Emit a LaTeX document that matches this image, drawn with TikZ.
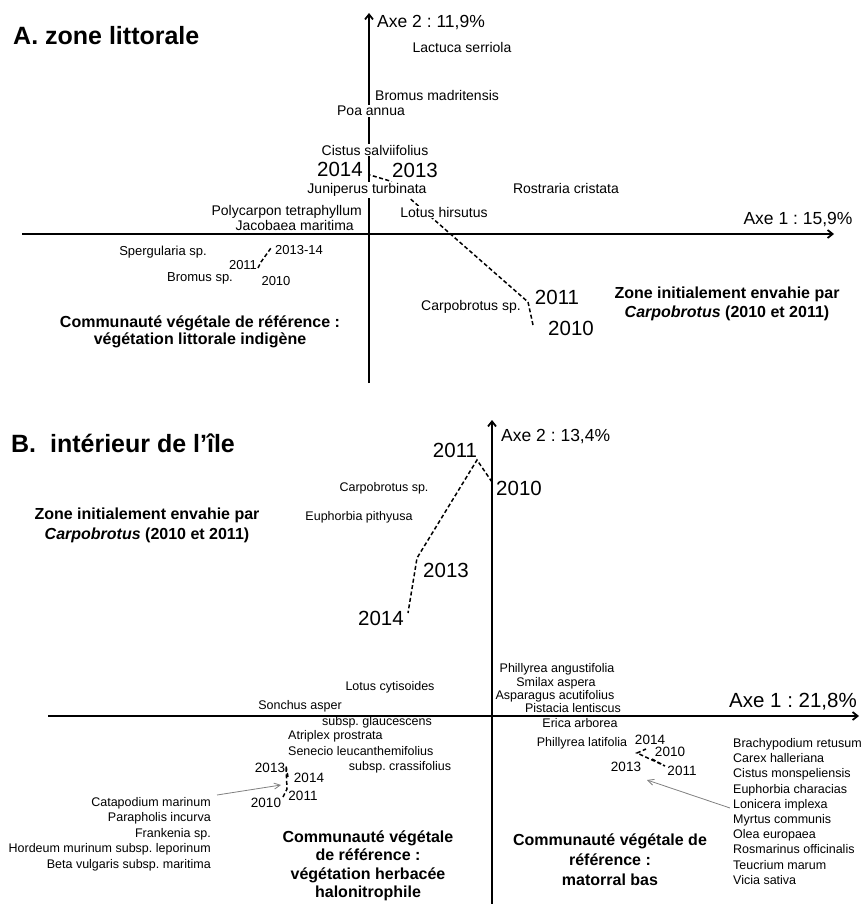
\documentclass[tikz,border=0pt]{standalone}
\usepackage{fontspec}
\setmainfont{Liberation Sans}
\usetikzlibrary{arrows.meta}
\frenchspacing

\begin{document}
\begin{tikzpicture}[x=1pt,y=-1pt,inner sep=1pt,
	axe/.style={line width=1.8pt,-{Straight Barb[length=5pt,width=8pt]}},
	traj/.style={line width=1.5pt,dash pattern=on 4pt off 2.5pt},
	fleche/.style={gray,line width=0.8pt,-{Straight Barb[length=6pt,width=6pt]}},
	cover/.style={fill=white},
	titre/.style={font=\bfseries\fontsize{25}{30}\selectfont,anchor=base west},
	axlab/.style={font=\fontsize{17.5}{20}\selectfont},
	esp/.style={font=\fontsize{14}{16}\selectfont},
	esppt/.style={font=\fontsize{13}{15}\selectfont},
	espB/.style={font=\fontsize{12.5}{15}\selectfont},
	annee/.style={font=\fontsize{20.5}{24}\selectfont},
	anpt/.style={font=\fontsize{13.5}{16}\selectfont},
	gras/.style={font=\bfseries\fontsize{16}{17}\selectfont,align=center}]

	\useasboundingbox (0,0) rectangle (861,904);

	% A. zone littorale
	\coordinate (a1g) at (22,234);
	\coordinate (a1d) at (834,234);
	\coordinate (a2b) at (369,383);
	\coordinate (a2h) at (369,13);
	\draw[axe] (a1g) -- (a1d);
	\draw[axe] (a2b) -- (a2h);

	\coordinate (tA10) at (533,325);
	\coordinate (tA11) at (528,302);
	\coordinate (tA13) at (390,181);
	\coordinate (tA14) at (370,175);
	\draw[traj] (tA10) -- (tA11) -- (tA13) -- (tA14);

	\coordinate (sA10) at (258,268);
	\coordinate (sA11) at (261,262);
	\coordinate (sA1314) at (271,248);
	\draw[traj] (sA10) -- (sA11) -- (sA1314);

	\node[titre] (titreA) at (12,45) {A. zone littorale};
	\node[axlab,anchor=west] (axe2A) at (376,23) {Axe 2 : 11,9\%};
	\node[axlab] (axe1A) at (798,220) {Axe 1 : 15,9\%};

	\node[esp] (lactuca) at (462,47) {Lactuca serriola};
	\node[esp,anchor=west] (bromusM) at (374,95) {Bromus madritensis};
	\node[esp,cover] (poa) at (371,111) {Poa annua};
	\node[esp,cover] (cistus) at (375,150) {Cistus salviifolius};
	\node[esp,cover] (juniperus) at (367,190) {Juniperus turbinata};
	\node[esp] (rostraria) at (566,188) {Rostraria cristata};
	\node[esp,cover] (lotusH) at (444,212) {Lotus hirsutus};
	\node[esp,anchor=east] (polycarpon) at (363,212) {Polycarpon tetraphyllum};
	\node[esp,anchor=east] (jacobaea) at (355,225) {Jacobaea maritima};
	\node[esp] (carpoA) at (471,307) {Carpobrotus sp.};

	\node[annee] (yA14) at (340,169) {2014};
	\node[annee] (yA13) at (415,170) {2013};
	\node[annee] (yA11) at (557,297) {2011};
	\node[annee] (yA10) at (571,328) {2010};

	\node[esppt] (spergularia) at (163,252) {Spergularia sp.};
	\node[esppt] (bromusSp) at (200,278) {Bromus sp.};
	\node[esppt] (pA1314) at (299,250) {2013-14};
	\node[esppt] (pA11) at (243,265) {2011};
	\node[esppt] (pA10) at (276,281) {2010};

	\node[gras] (refA) at (200,331.5) {Communauté végétale de référence :\\végétation littorale indigène};
	\node[gras,font=\bfseries\fontsize{16}{19}\selectfont] (zoneA) at (727,303.5) {Zone initialement envahie par\\\textit{Carpobrotus} (2010 et 2011)};

	% B. interieur de l'ile
	\coordinate (b1g) at (48,716);
	\coordinate (b1d) at (859,716);
	\coordinate (b2b) at (492,906);
	\coordinate (b2h) at (492,420);
	\draw[axe] (b1g) -- (b1d);
	\draw[axe] (b2b) -- (b2h);

	\coordinate (tB10) at (492,482);
	\coordinate (tB11) at (477,460);
	\coordinate (tB13) at (417,558);
	\coordinate (tB14) at (408,613);
	\draw[traj] (tB10) -- (tB11) -- (tB13) -- (tB14);

	\coordinate (sB10) at (283,797);
	\coordinate (sB11) at (287,789);
	\coordinate (sB13) at (286,766);
	\coordinate (sB14) at (288,777);
	\draw[traj] (sB10) -- (sB11) -- (sB13) -- (sB14);

	\coordinate (sC10) at (652,759);
	\coordinate (sC11) at (665,766);
	\coordinate (sC13) at (637,753);
	\coordinate (sC14) at (646,749);
	\draw[traj] (sC10) -- (sC11) -- (sC13) -- (sC14);

	\node[titre] (titreB) at (10,452) {B.\ \ intérieur de l’île};
	\node[axlab,anchor=west] (axe2B) at (500,437) {Axe 2 : 13,4\%};
	\node[axlab,font=\fontsize{20.5}{24}\selectfont] (axe1B) at (793,702) {Axe 1 : 21,8\%};

	\node[annee] (yB11) at (455,450) {2011};
	\node[annee] (yB10) at (519,488) {2010};
	\node[annee] (yB13) at (446,570) {2013};
	\node[annee] (yB14) at (381,618) {2014};

	\node[espB] (carpoB) at (384,488) {Carpobrotus sp.};
	\node[espB] (euphorbiaP) at (359,517) {Euphorbia pithyusa};
	\node[gras,font=\bfseries\fontsize{16}{20}\selectfont] (zoneB) at (147,525) {Zone initialement envahie par\\\textit{Carpobrotus} (2010 et 2011)};

	\node[espB] (lotusC) at (390,687) {Lotus cytisoides};
	\node[espB] (sonchus) at (300,706) {Sonchus asper};
	\node[espB] (glauc) at (377,722) {subsp. glaucescens};
	\node[espB,anchor=west] (atriplex) at (287,736) {Atriplex prostrata};
	\node[espB,anchor=west] (senecio) at (287,751) {Senecio leucanthemifolius};
	\node[espB] (crass) at (400,767) {subsp. crassifolius};

	\node[anpt] (pB13) at (270,768) {2013};
	\node[anpt] (pB14) at (309,778) {2014};
	\node[anpt] (pB11) at (303,796) {2011};
	\node[anpt] (pB10) at (266,803) {2010};

	\node[espB,anchor=east,align=right,font=\fontsize{12.5}{15.5}\selectfont] (halo) at (212,834)
		{Catapodium marinum\\Parapholis incurva\\Frankenia sp.\\Hordeum murinum subsp. leporinum\\Beta vulgaris subsp. maritima};
	\coordinate (fHs) at (217,795);
	\coordinate (fHe) at (281,785);
	\draw[fleche] (fHs) -- (fHe);

	\node[espB] (phillA) at (557,669) {Phillyrea angustifolia};
	\node[espB] (smilax) at (556,683) {Smilax aspera};
	\node[espB] (asparagus) at (555,696) {Asparagus acutifolius};
	\node[espB] (pistacia) at (573,708) {Pistacia lentiscus};
	\node[espB] (erica) at (580,723) {Erica arborea};
	\node[espB] (phillL) at (582,743) {Phillyrea latifolia};

	\node[anpt] (pC14) at (650,740) {2014};
	\node[anpt] (pC10) at (670,752) {2010};
	\node[anpt] (pC13) at (626,767) {2013};
	\node[anpt] (pC11) at (682,771) {2011};

	\node[espB,anchor=west,align=left,font=\fontsize{12.5}{15.2}\selectfont] (mato) at (732,811.5)
		{Brachypodium retusum\\Carex halleriana\\Cistus monspeliensis\\Euphorbia characias\\Lonicera implexa\\Myrtus communis\\Olea europaea\\Rosmarinus officinalis\\Teucrium marum\\Vicia sativa};
	\coordinate (fMs) at (730,808);
	\coordinate (fMe) at (647,780);
	\draw[fleche] (fMs) -- (fMe);

	\node[gras,font=\bfseries\fontsize{16}{18.5}\selectfont] (refB1) at (368,866) {Communauté végétale\\de référence :\\végétation herbacée\\halonitrophile};
	\node[gras,font=\bfseries\fontsize{16}{20}\selectfont] (refB2) at (610,860) {Communauté végétale de\\référence :\\matorral bas};

\end{tikzpicture}
\end{document}
